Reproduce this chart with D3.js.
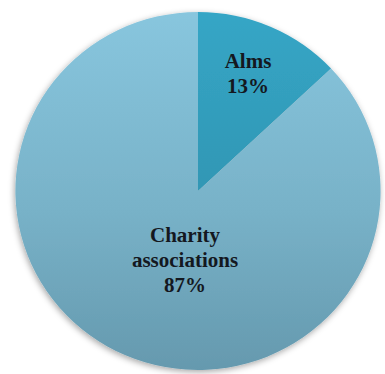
<!DOCTYPE html>
<html>
<head>
<meta charset="utf-8">
<script src="https://cdn.jsdelivr.net/npm/d3@7"></script>
<style>
  html, body { margin: 0; padding: 0; background: #ffffff; }
  svg { display: block; }
  .lbl { font-family: "Times New Roman", "Liberation Serif", "DejaVu Serif", serif; font-weight: bold; font-size: 21px; }
</style>
</head>
<body>
<svg id="chart" width="385" height="374"></svg>
<script>
// Share of giving by channel
const categories = ["Alms", "Charity associations"];
const values = [13, 87];
const labelLines = [["Alms", "13%"], ["Charity", "associations", "87%"]];

const svg = d3.select("#chart");
const defs = svg.append("defs");

// Vertical gradients for each slice
const gradStops = [
  [["0%", "#36a6c6"], ["100%", "#2a88a3"]],
  [["0%", "#88c6de"], ["55%", "#78b2c8"], ["100%", "#6599ae"]]
];
gradStops.forEach((stops, i) => {
  const g = defs.append("linearGradient")
    .attr("id", "grad" + i)
    .attr("gradientUnits", "userSpaceOnUse")
    .attr("x1", 0).attr("y1", -180).attr("x2", 0).attr("y2", 180);
  stops.forEach(s => g.append("stop").attr("offset", s[0]).attr("stop-color", s[1]));
});

const shadow = defs.append("filter").attr("id", "shadow")
  .attr("x", "-20%").attr("y", "-20%").attr("width", "140%").attr("height", "140%");
shadow.append("feDropShadow")
  .attr("dx", -1).attr("dy", 2).attr("stdDeviation", 3)
  .attr("flood-color", "#000").attr("flood-opacity", 0.35);

const cx = 198, cy = 191, r = 179;

const pie = d3.pie().sort(null).value(d => d);
const arc = d3.arc().innerRadius(0).outerRadius(r);
const arcs = pie(values);

const g = svg.append("g")
  .attr("transform", `translate(${cx},${cy}) scale(1.02,1)`)
  .attr("filter", "url(#shadow)");

g.selectAll("path")
  .data(arcs)
  .join("path")
  .attr("d", arc)
  .attr("fill", (d, i) => `url(#grad${i})`);

// Labels
const labelPos = [[248, 68], [185, 242]];
const lineH = 25;
const labels = svg.append("g")
  .attr("class", "lbl")
  .attr("fill", "#14181f")
  .attr("text-anchor", "middle");

labelLines.forEach((lines, i) => {
  const t = labels.append("text")
    .attr("x", labelPos[i][0])
    .attr("y", labelPos[i][1]);
  lines.forEach((ln, j) => {
    t.append("tspan")
      .attr("x", labelPos[i][0])
      .attr("dy", j === 0 ? 0 : lineH)
      .text(ln);
  });
});
</script>
</body>
</html>
